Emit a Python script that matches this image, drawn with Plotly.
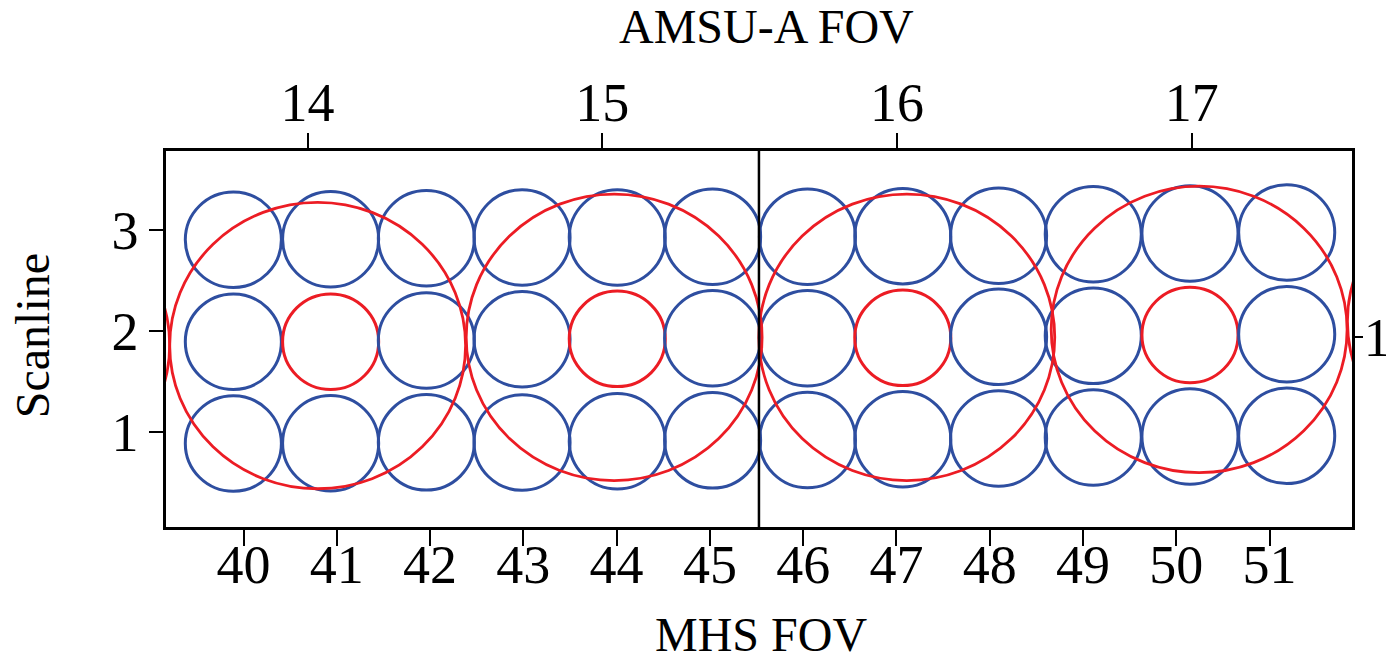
import plotly.graph_objects as go

# MHS fields of view (cross-track positions, in MHS FOV units) for three scanlines
mhs_fov = [40, 41, 42, 43, 44, 45, 46, 47, 48, 49, 50, 51]
mhs_x = [39.891, 40.934, 41.960, 42.986, 44.007, 45.029,
         46.046, 47.068, 48.095, 49.110, 50.147, 51.184]
scan1_y = [0.889, 0.892, 0.901, 0.899, 0.912, 0.921,
           0.924, 0.932, 0.939, 0.949, 0.959, 0.965]
scan2_y = [1.896, 1.896, 1.908, 1.920, 1.924, 1.930,
           1.930, 1.934, 1.944, 1.954, 1.962, 1.970]
scan3_y = [2.904, 2.909, 2.918, 2.926, 2.926, 2.934,
           2.934, 2.939, 2.943, 2.958, 2.965, 2.975]
# MHS FOVs collocated with AMSU-A FOV centres (scanline 2)
collocated_fov = [41, 44, 47, 50]

# AMSU-A fields of view (in AMSU-A FOV / AMSU-A scanline units)
amsu_fov = [13, 14, 15, 16, 17, 18]
amsu_x = [13.03, 14.034, 15.040, 16.033, 17.025, 18.03]
amsu_y = [0.973, 0.971, 0.998, 0.998, 1.024, 1.05]

# footprint semi-axes in axis units
MHS_RX, MHS_RY = 0.515, 0.472
AMSU_RX, AMSU_RY = 0.502, 0.472

# boundary between the two halves of the swath segment
split_x = 45.526

BLUE = "rgb(46,78,160)"
RED = "rgb(236,28,36)"
FONT = "Liberation Serif"

fig = go.Figure()

# invisible anchors so both overlay axes are registered
fig.add_trace(go.Scatter(x=mhs_x, y=scan2_y, mode="markers",
                         marker=dict(opacity=0), hoverinfo="skip", showlegend=False))
fig.add_trace(go.Scatter(x=amsu_x, y=amsu_y, xaxis="x2", yaxis="y2", mode="markers",
                         marker=dict(opacity=0), hoverinfo="skip", showlegend=False))

shapes = []
for row in (scan1_y, scan2_y, scan3_y):
    for fov, cx, cy in zip(mhs_fov, mhs_x, row):
        colour = RED if (row is scan2_y and fov in collocated_fov) else BLUE
        shapes.append(dict(type="circle", xref="x", yref="y",
                           x0=cx - MHS_RX, x1=cx + MHS_RX,
                           y0=cy - MHS_RY, y1=cy + MHS_RY,
                           line=dict(color=colour, width=3)))
for cx, cy in zip(amsu_x, amsu_y):
    shapes.append(dict(type="circle", xref="x2", yref="y2",
                       x0=cx - AMSU_RX, x1=cx + AMSU_RX,
                       y0=cy - AMSU_RY, y1=cy + AMSU_RY,
                       line=dict(color=RED, width=2.8)))
shapes.append(dict(type="line", xref="x", yref="paper", x0=split_x, x1=split_x,
                   y0=0, y1=1, line=dict(color="black", width=2.5)))

tickfont = dict(family=FONT, size=54, color="black")
titlefont = dict(family=FONT, size=48, color="black")

# axis titles
annotations = [
    dict(text="MHS FOV", xref="paper", yref="paper", x=0.502, y=-0.286,
         xanchor="center", yanchor="middle", showarrow=False, font=titlefont),
    dict(text="AMSU-A FOV", xref="paper", yref="paper", x=0.506, y=1.33,
         xanchor="center", yanchor="middle", showarrow=False, font=titlefont),
    dict(text="Scanline", xref="paper", yref="paper", x=-0.113, y=0.51,
         xanchor="center", yanchor="middle", showarrow=False, textangle=-90,
         font=titlefont),
]

fig.update_layout(
    width=1386, height=654,
    margin=dict(l=166, r=34, t=151, b=127, autoexpand=False),
    paper_bgcolor="white", plot_bgcolor="white",
    showlegend=False,
    shapes=shapes,
    annotations=annotations,
    xaxis=dict(range=[39.169, 51.884], tickmode="array", tickvals=mhs_fov,
               ticktext=[str(v) for v in mhs_fov], automargin=False,
               ticks="outside", ticklen=16, tickwidth=2, tickcolor="black",
               ticklabelstandoff=-28,
               tickfont=tickfont, showgrid=False, zeroline=False,
               showline=True, linecolor="black", linewidth=2.5, mirror=True),
    xaxis2=dict(range=[13.5195, 17.5436], overlaying="x", side="top", anchor="y",
                tickmode="array", tickvals=[14, 15, 16, 17],
                ticktext=["14", "15", "16", "17"], automargin=False,
                ticks="outside", ticklen=17, tickwidth=2, tickcolor="black",
                ticklabelstandoff=-10,
                tickfont=tickfont, showgrid=False, zeroline=False, showline=False),
    yaxis=dict(range=[0.064, 3.781], tickmode="array", tickvals=[1, 2, 3],
               ticktext=["1", "2", "3"], automargin=False,
               ticks="outside", ticklen=14, tickwidth=2, tickcolor="black",
               tickfont=tickfont, showgrid=False, zeroline=False,
               showline=True, linecolor="black", linewidth=2.5, mirror=True),
    yaxis2=dict(range=[0.373, 1.612], overlaying="y", side="right", anchor="x",
                tickmode="array", tickvals=[1], ticktext=["1"], automargin=False,
                ticks="outside", ticklen=10, tickwidth=2, tickcolor="black",
                ticklabelstandoff=-10,
                tickfont=tickfont, showgrid=False, zeroline=False, showline=False),
)

fig.write_html("out.html")
